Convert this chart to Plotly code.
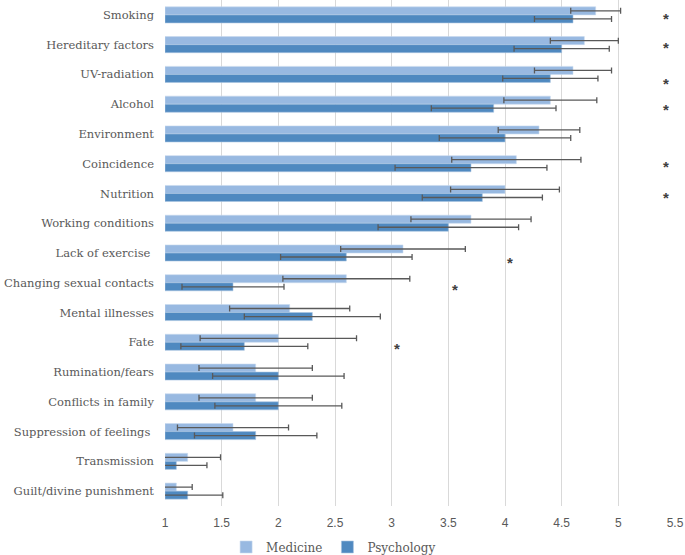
import plotly.graph_objects as go

categories = ["Smoking", "Hereditary factors", "UV-radiation", "Alcohol", "Environment",
              "Coincidence", "Nutrition", "Working conditions", "Lack of exercise ",
              "Changing sexual contacts", "Mental illnesses", "Fate", "Rumination/fears",
              "Conflicts in family", "Suppression of feelings ", "Transmission",
              "Guilt/divine punishment"]
medicine = [4.8, 4.7, 4.6, 4.4, 4.3, 4.1, 4.0, 3.7, 3.1, 2.6, 2.1, 2.0, 1.8, 1.8, 1.6, 1.2, 1.1]
medicine_sd = [0.22, 0.30, 0.34, 0.41, 0.36, 0.57, 0.48, 0.53, 0.55, 0.56, 0.53, 0.69, 0.50, 0.50, 0.49, 0.29, 0.14]
psychology = [4.6, 4.5, 4.4, 3.9, 4.0, 3.7, 3.8, 3.5, 2.6, 1.6, 2.3, 1.7, 2.0, 2.0, 1.8, 1.1, 1.2]
psychology_sd = [0.34, 0.42, 0.42, 0.55, 0.58, 0.67, 0.53, 0.62, 0.58, 0.45, 0.60, 0.56, 0.58, 0.56, 0.54, 0.27, 0.31]
x_ticks = [1, 1.5, 2, 2.5, 3, 3.5, 4, 4.5, 5, 5.5]

# significance markers: (category, x position, vertical shift in px)
star_cats = ["Smoking", "Hereditary factors", "UV-radiation", "Alcohol", "Coincidence",
             "Nutrition", "Lack of exercise ", "Changing sexual contacts", "Fate"]
star_x = [5.42, 5.42, 5.42, 5.42, 5.42, 5.42, 4.04, 3.56, 3.05]
star_shift = [-4, -3, -9, -5, -3, -4, -9, -7, -6]

SERIF = "DejaVu Serif"
SANS = "Liberation Sans"
BASE = 1
gray = "#595959"
fig = go.Figure()
fig.add_trace(go.Bar(
    y=categories, x=[v - BASE for v in medicine], base=BASE, orientation="h",
    name="Medicine", marker=dict(color="#98B9E1", line=dict(color="#C9DAEE", width=0.6)),
    error_x=dict(type="data", array=medicine_sd, color=gray, thickness=1.3, width=3),
))
fig.add_trace(go.Bar(
    y=categories, x=[v - BASE for v in psychology], base=BASE, orientation="h",
    name="Psychology", marker=dict(color="#4F89C0", line=dict(color="#A9C4E0", width=0.6)),
    error_x=dict(type="data", array=psychology_sd, color=gray, thickness=1.3, width=3),
))

for c, x, s in zip(star_cats, star_x, star_shift):
    fig.add_annotation(x=x, y=c, xref="x", yref="y", text="<b>*</b>", showarrow=False,
                       yshift=s, font=dict(family=SANS, size=15, color="#404040"))

fig.update_layout(
    width=685, height=555,
    margin=dict(l=165, r=10, t=0, b=49, autoexpand=False),
    plot_bgcolor="white", paper_bgcolor="white",
    barmode="group", bargap=0.46, bargroupgap=0,
    showlegend=True,
    font=dict(family=SERIF, color=gray),
    legend=dict(orientation="h", xref="container", x=0.487, xanchor="center",
                yref="paper", y=-0.081, yanchor="middle",
                font=dict(family=SERIF, size=12, color=gray),
                itemwidth=30, traceorder="normal"),
    xaxis=dict(range=[1, 5.5], tickvals=x_ticks, ticktext=[str(t) for t in x_ticks],
               showgrid=True, gridcolor="#D9D9D9", gridwidth=1, zeroline=False,
               showline=False, ticks="", automargin=False, ticklabelstandoff=8,
               tickfont=dict(family=SANS, size=12, color=gray)),
    yaxis=dict(autorange="reversed", showgrid=False, ticks="", showline=False,
               ticklabelstandoff=10, automargin=False,
               tickfont=dict(family=SERIF, size=11.5, color=gray)),
)
fig.write_html("out.html", config={"displayModeBar": False},
               post_script="document.body.style.margin='0';")
